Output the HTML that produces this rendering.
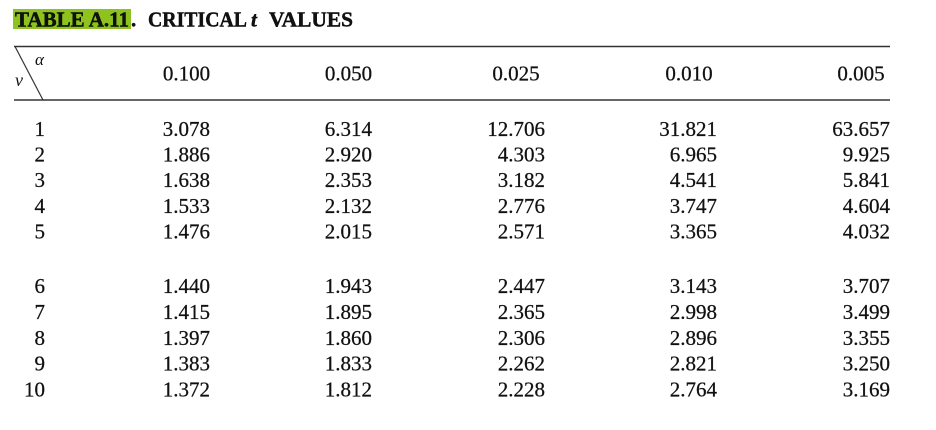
<!DOCTYPE html>
<html>
<head>
<meta charset="utf-8">
<style>
  html, body { margin:0; padding:0; background:#fff; }
  body { width:936px; height:430px; overflow:hidden; }
  svg { display:block; }
  text { font-family: "Liberation Serif", serif; fill:#111; }
  .d text { stroke:#111; stroke-width:0.25; }
</style>
</head>
<body>
<svg width="936" height="430" viewBox="0 0 936 430" xmlns="http://www.w3.org/2000/svg">
  <!-- Title -->
  <rect x="13" y="9" width="118" height="20" fill="#8dc21f"/>
  <g stroke="#000" stroke-width="0.4">
  <text x="15" y="26.5" font-size="21" font-weight="bold" fill="#000" textLength="114" lengthAdjust="spacingAndGlyphs">TABLE A.11</text>
  <text x="131" y="26.5" font-size="21" font-weight="bold" fill="#000">.</text>
  <text x="148" y="26.5" font-size="21" font-weight="bold" fill="#000" textLength="99" lengthAdjust="spacingAndGlyphs">CRITICAL</text>
  <text x="251" y="26.5" font-size="21" font-weight="bold" font-style="italic" fill="#000">t</text>
  <text x="269" y="26.5" font-size="21" font-weight="bold" fill="#000" textLength="84" lengthAdjust="spacingAndGlyphs">VALUES</text>
  </g>

  <!-- Rules -->
  <line x1="14" y1="46.5" x2="890" y2="46.5" stroke="#333" stroke-width="1.5"/>
  <line x1="14" y1="100" x2="890" y2="100" stroke="#333" stroke-width="1.5"/>
  <line x1="15" y1="46.5" x2="43" y2="100" stroke="#333" stroke-width="1.2"/>

  <!-- alpha / nu -->
  <text x="35" y="65" font-size="17" font-style="italic" fill="#1a2340">α</text>
  <text x="15" y="86" font-size="18" font-style="italic" fill="#1a2340">ν</text>

  <!-- Header -->
  <g class="d" font-size="21" text-anchor="middle">
    <text x="186.5" y="80.5">0.100</text>
    <text x="348.5" y="80.5">0.050</text>
    <text x="516" y="80.5">0.025</text>
    <text x="689" y="80.5">0.010</text>
    <text x="861" y="80.5">0.005</text>
  </g>

  <!-- Data -->
  <g class="d" font-size="21" text-anchor="end">
    <!-- rows 1-5 -->
    <text x="45" y="136">1</text>
    <text x="210" y="136">3.078</text>
    <text x="372" y="136">6.314</text>
    <text x="545" y="136">12.706</text>
    <text x="717" y="136">31.821</text>
    <text x="890" y="136">63.657</text>

    <text x="45" y="161.6">2</text>
    <text x="210" y="161.6">1.886</text>
    <text x="372" y="161.6">2.920</text>
    <text x="545" y="161.6">4.303</text>
    <text x="717" y="161.6">6.965</text>
    <text x="890" y="161.6">9.925</text>

    <text x="45" y="187.2">3</text>
    <text x="210" y="187.2">1.638</text>
    <text x="372" y="187.2">2.353</text>
    <text x="545" y="187.2">3.182</text>
    <text x="717" y="187.2">4.541</text>
    <text x="890" y="187.2">5.841</text>

    <text x="45" y="212.8">4</text>
    <text x="210" y="212.8">1.533</text>
    <text x="372" y="212.8">2.132</text>
    <text x="545" y="212.8">2.776</text>
    <text x="717" y="212.8">3.747</text>
    <text x="890" y="212.8">4.604</text>

    <text x="45" y="238.4">5</text>
    <text x="210" y="238.4">1.476</text>
    <text x="372" y="238.4">2.015</text>
    <text x="545" y="238.4">2.571</text>
    <text x="717" y="238.4">3.365</text>
    <text x="890" y="238.4">4.032</text>

    <!-- rows 6-10 -->
    <text x="45" y="293">6</text>
    <text x="210" y="293">1.440</text>
    <text x="372" y="293">1.943</text>
    <text x="545" y="293">2.447</text>
    <text x="717" y="293">3.143</text>
    <text x="890" y="293">3.707</text>

    <text x="45" y="318.9">7</text>
    <text x="210" y="318.9">1.415</text>
    <text x="372" y="318.9">1.895</text>
    <text x="545" y="318.9">2.365</text>
    <text x="717" y="318.9">2.998</text>
    <text x="890" y="318.9">3.499</text>

    <text x="45" y="344.8">8</text>
    <text x="210" y="344.8">1.397</text>
    <text x="372" y="344.8">1.860</text>
    <text x="545" y="344.8">2.306</text>
    <text x="717" y="344.8">2.896</text>
    <text x="890" y="344.8">3.355</text>

    <text x="45" y="370.6">9</text>
    <text x="210" y="370.6">1.383</text>
    <text x="372" y="370.6">1.833</text>
    <text x="545" y="370.6">2.262</text>
    <text x="717" y="370.6">2.821</text>
    <text x="890" y="370.6">3.250</text>

    <text x="45" y="396.5">10</text>
    <text x="210" y="396.5">1.372</text>
    <text x="372" y="396.5">1.812</text>
    <text x="545" y="396.5">2.228</text>
    <text x="717" y="396.5">2.764</text>
    <text x="890" y="396.5">3.169</text>
  </g>
</svg>
</body>
</html>
